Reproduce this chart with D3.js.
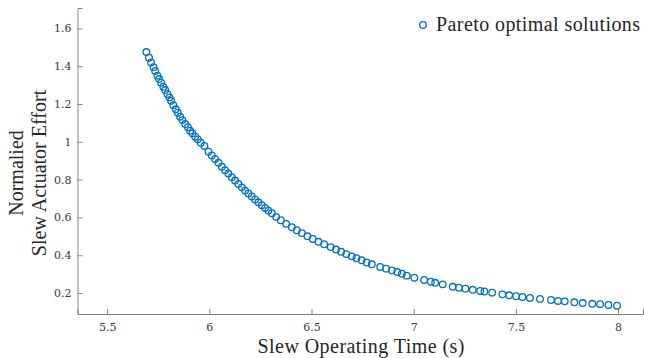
<!DOCTYPE html>
<html>
<head>
<meta charset="utf-8">
<script src="https://cdn.jsdelivr.net/npm/d3@7"></script>
<style>
    body { margin: 0; background: #fff; }
    svg { display: block; }
</style>
</head>
<body>
<svg width="645" height="358"></svg>
<script>
'use strict';

// slew operating time (s) for each pareto point
const operatingTime = [5.692, 5.705, 5.715, 5.727, 5.735, 5.746, 5.754, 5.764, 5.775, 5.784,
    5.795, 5.805, 5.813, 5.824, 5.836, 5.846, 5.857, 5.868, 5.882, 5.895,
    5.906, 5.917, 5.931, 5.944, 5.958, 5.976, 5.996, 6.012, 6.028, 6.045,
    6.061, 6.077, 6.093, 6.110, 6.126, 6.142, 6.159, 6.175, 6.191, 6.208,
    6.224, 6.240, 6.257, 6.273, 6.289, 6.306, 6.327, 6.350, 6.376, 6.404,
    6.428, 6.453, 6.480, 6.506, 6.534, 6.562, 6.594, 6.620, 6.645, 6.670,
    6.697, 6.720, 6.745, 6.770, 6.795, 6.836, 6.865, 6.893, 6.920, 6.942,
    6.966, 7.003, 7.051, 7.084, 7.105, 7.142, 7.191, 7.221, 7.253, 7.289,
    7.325, 7.346, 7.384, 7.434, 7.467, 7.501, 7.532, 7.569, 7.618, 7.672,
    7.706, 7.739, 7.786, 7.827, 7.874, 7.912, 7.953, 7.995];

// normalised actuator effort, same order
const actuatorEffort = [1.475, 1.445, 1.420, 1.395, 1.375, 1.350, 1.332, 1.313, 1.292, 1.274,
    1.253, 1.235, 1.217, 1.194, 1.172, 1.154, 1.133, 1.115, 1.094, 1.077,
    1.059, 1.045, 1.027, 1.013, 0.995, 0.978, 0.948, 0.928, 0.909, 0.889,
    0.868, 0.850, 0.832, 0.813, 0.795, 0.777, 0.759, 0.742, 0.727, 0.711,
    0.695, 0.680, 0.665, 0.650, 0.636, 0.622, 0.603, 0.585, 0.566, 0.548,
    0.532, 0.517, 0.500, 0.486, 0.471, 0.458, 0.443, 0.430, 0.418, 0.406,
    0.394, 0.384, 0.373, 0.362, 0.352, 0.338, 0.329, 0.320, 0.311, 0.302,
    0.292, 0.281, 0.269, 0.260, 0.254, 0.246, 0.233, 0.228, 0.223, 0.217,
    0.211, 0.208, 0.202, 0.193, 0.188, 0.183, 0.179, 0.174, 0.169, 0.163,
    0.158, 0.156, 0.151, 0.147, 0.143, 0.141, 0.137, 0.133];

const xTicks = [5.5, 6, 6.5, 7, 7.5, 8];
const yTicks = [0.2, 0.4, 0.6, 0.8, 1, 1.2, 1.4, 1.6];
const xLabel = "Slew Operating Time (s)";
const yLabelLines = ["Normalied", "Slew Actuator Effort"];
const legendText = "Pareto optimal solutions";

const blue = "#0072BD";
const axisColor = "#858585";
const tickText = "#3a3a3a";
const serif = "'Liberation Serif', 'DejaVu Serif', serif";

var svg = d3.select("svg");

var x = d3.scaleLinear().domain([5.355, 8.122]).range([77.5, 643]);
var y = d3.scaleLinear().domain([0.089, 1.708]).range([314, 8]);

// x axis, ticks pointing up into the plot
var xAxis = svg.append("g")
    .attr("transform", "translate(0,314)")
    .call(d3.axisBottom(x).tickValues(xTicks).tickSize(-5).tickPadding(9)
        .tickFormat(d3.format("")));
// y axis, ticks pointing right
var yAxis = svg.append("g")
    .attr("transform", "translate(77.5,0)")
    .call(d3.axisLeft(y).tickValues(yTicks).tickSize(-5).tickPadding(6)
        .tickFormat(d3.format("")));

[xAxis, yAxis].forEach(function (ax) {
    ax.attr("font-family", "'DejaVu Serif', serif").attr("font-size", 11);
    ax.select(".domain").attr("stroke", axisColor).attr("stroke-width", 1);
    ax.selectAll(".tick line").attr("stroke", axisColor);
    ax.selectAll(".tick text").attr("fill", tickText);
});

// points
svg.append("g").selectAll("circle")
    .data(operatingTime)
    .enter().append("circle")
    .attr("cx", function (d) { return x(d); })
    .attr("cy", function (d, i) { return y(actuatorEffort[i]); })
    .attr("r", 3.3)
    .attr("fill", "none")
    .attr("stroke", blue)
    .attr("stroke-width", 1.3);

// axis labels
svg.append("text")
    .attr("x", 361)
    .attr("y", 353)
    .attr("text-anchor", "middle")
    .attr("textLength", 207)
    .attr("lengthAdjust", "spacing")
    .style("font-family", serif)
    .style("font-size", "20px")
    .attr("fill", "#262626")
    .text(xLabel);

var yl = svg.append("text")
    .attr("transform", "translate(0,173) rotate(-90)")
    .attr("text-anchor", "middle")
    .style("font-family", serif)
    .style("font-size", "20px")
    .attr("fill", "#262626");
yl.selectAll("tspan")
    .data(yLabelLines)
    .enter().append("tspan")
    .attr("x", 0)
    .attr("y", function (d, i) { return 23 + i * 23; })
    .text(function (d) { return d; });

// legend
svg.append("circle")
    .attr("cx", 423).attr("cy", 25).attr("r", 3.3)
    .attr("fill", "none").attr("stroke", blue).attr("stroke-width", 1.3);
svg.append("text")
    .attr("x", 436)
    .attr("y", 31)
    .attr("textLength", 204)
    .attr("lengthAdjust", "spacing")
    .style("font-family", serif)
    .style("font-size", "20px")
    .attr("fill", "#262626")
    .text(legendText);
</script>
</body>
</html>
